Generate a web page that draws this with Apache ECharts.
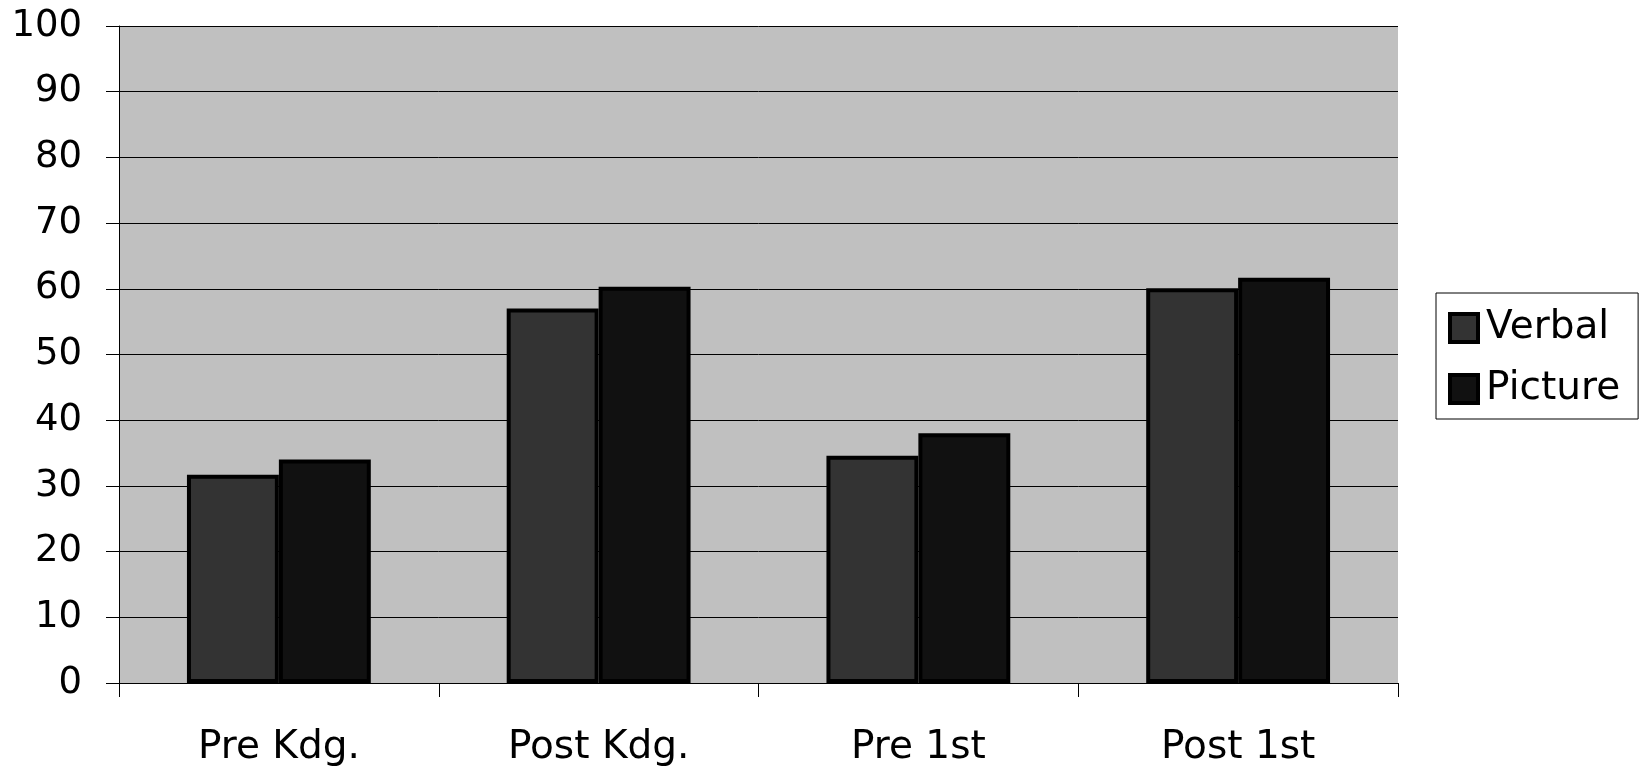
<!DOCTYPE html>
<html>
<head>
<meta charset="utf-8">
<script src="https://cdn.jsdelivr.net/npm/echarts@6/dist/echarts.min.js"></script>
<style>
html,body{margin:0;padding:0;background:#fff;}
#chart{width:1644px;height:767px;}
</style>
</head>
<body>
<div id="chart"></div>
<script>
const categories = ['Pre Kdg.', 'Post Kdg.', 'Pre 1st', 'Post 1st'];
const verbal = [31.7, 57.0, 34.6, 60.1];
const picture = [34.0, 60.3, 38.0, 61.7];
const seriesNames = ['Verbal', 'Picture'];

const font = 'DejaVu Sans, Verdana, sans-serif';
const chart = echarts.init(document.getElementById('chart'));
chart.setOption({
  animation: false,
  backgroundColor: '#ffffff',
  grid: {
    left: 119, right: 246, top: 26, bottom: 84,
    show: true, backgroundColor: '#c0c0c0', borderWidth: 0
  },
  legend: {
    data: seriesNames,
    orient: 'vertical',
    left: 1436, top: 293,
    padding: [15, 18, 10, 12],
    itemGap: 21,
    itemWidth: 28, itemHeight: 28,
    icon: 'rect',
    borderColor: '#000', borderWidth: 1,
    backgroundColor: '#fff',
    itemStyle: { borderColor: '#000', borderWidth: 4 },
    textStyle: { fontFamily: font, fontSize: 39, color: '#000', lineHeight: 40, padding: [0,0,0,3] }
  },
  xAxis: {
    type: 'category',
    data: categories,
    boundaryGap: true,
    axisLine: { show: true, lineStyle: { color: '#000', width: 1 } },
    axisTick: { show: true, length: 14, interval: 0, lineStyle: { color: '#000', width: 1 } },
    axisLabel: { fontFamily: font, fontSize: 39, color: '#000', margin: 45, interval: 0 },
    splitLine: { show: false }
  },
  yAxis: {
    type: 'value',
    min: 0, max: 100, interval: 10,
    axisLine: { show: true, lineStyle: { color: '#000', width: 1 } },
    axisTick: { show: true, length: 13, lineStyle: { color: '#000', width: 1 } },
    axisLabel: { fontFamily: font, fontSize: 37, color: '#000', margin: 37 },
    splitLine: { show: true, lineStyle: { color: '#000', width: 1 } }
  },
  series: [
    {
      name: seriesNames[0], type: 'bar', data: verbal,
      barGap: '0%', barCategoryGap: '42.5%',
      itemStyle: { color: '#333333', borderColor: '#000', borderWidth: 4 }
    },
    {
      name: seriesNames[1], type: 'bar', data: picture,
      barGap: '0%', barCategoryGap: '42.5%',
      itemStyle: { color: '#111111', borderColor: '#000', borderWidth: 4 }
    }
  ]
});
</script>
</body>
</html>
